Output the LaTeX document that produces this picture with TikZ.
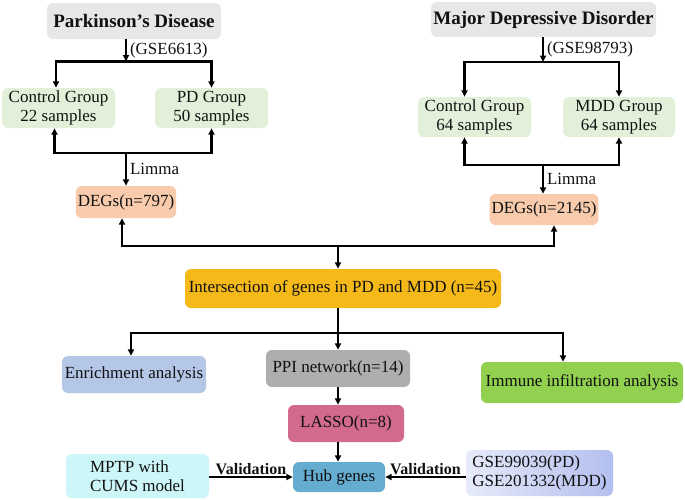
\documentclass[tikz,border=0pt]{standalone}
\usepackage{fontspec}
\setmainfont{Liberation Serif}
\usetikzlibrary{arrows.meta,calc}
\definecolor{titlegray}{HTML}{E8E7E7}
\definecolor{lgreen}{HTML}{E2F0D9}
\definecolor{salmon}{HTML}{F8CBAD}
\definecolor{gold}{HTML}{F5B919}
\definecolor{enrblue}{HTML}{B4C7E7}
\definecolor{ppigray}{HTML}{B0ADAD}
\definecolor{immgreen}{HTML}{92D050}
\definecolor{lassopink}{HTML}{D26A8C}
\definecolor{hubblue}{HTML}{64ACD0}
\definecolor{mptpcyan}{HTML}{CDF6F9}
\definecolor{gseL}{HTML}{E6EAF9}
\definecolor{gseR}{HTML}{B3BFEF}
\definecolor{txt}{HTML}{111111}
\begin{document}
\begin{tikzpicture}[x=1pt,y=-1pt,
  box/.style={rounded corners=6pt,inner sep=2pt,align=center,text=txt,
    font=\fontsize{17}{19}\selectfont},
  ln/.style={line width=2.1pt,draw=black},
  arr/.style={ln,-{Triangle[length=6.5pt,width=6pt]}},
  lbl/.style={font=\fontsize{17}{19}\selectfont,text=txt,inner sep=2pt},
  vlbl/.style={font=\bfseries\fontsize{16}{18}\selectfont,text=txt,inner sep=1.5pt}]
\useasboundingbox (0,0) rectangle (685,499);
% nodes
\node[box,fill=titlegray,minimum width=174,minimum height=36,font=\bfseries\fontsize{19}{21}\selectfont] (pd) at (134,21) {Parkinson’s Disease};
\node[box,fill=titlegray,minimum width=225,minimum height=35,font=\bfseries\fontsize{19}{21}\selectfont] (mdd) at (543.5,19.5) {Major Depressive Disorder};
\node[box,fill=lgreen,minimum width=113,minimum height=40] (ctl1) at (58.5,108) {Control Group\\22 samples};
\node[box,fill=lgreen,minimum width=113,minimum height=40] (pdg) at (211.5,108) {PD Group\\50 samples};
\node[box,fill=lgreen,minimum width=113,minimum height=40] (ctl2) at (474.5,117) {Control Group\\64 samples};
\node[box,fill=lgreen,minimum width=112,minimum height=40] (mddg) at (619,117) {MDD Group\\64 samples};
\node[box,fill=salmon,minimum width=98,minimum height=32] (deg1) at (126,202) {DEGs(n=797)};
\node[box,fill=salmon,minimum width=108,minimum height=31] (deg2) at (544,209.5) {DEGs(n=2145)};
\node[box,fill=gold,minimum width=316,minimum height=39] (inter) at (343,288.5) {Intersection of genes in PD and MDD (n=45)};
\node[box,fill=enrblue,minimum width=144,minimum height=37] (enr) at (134,374.5) {Enrichment analysis};
\node[box,fill=ppigray,minimum width=144,minimum height=37] (ppi) at (338,368.5) {PPI network(n=14)};
\node[box,fill=immgreen,minimum width=202,minimum height=41] (imm) at (582,382.5) {Immune infiltration analysis};
\node[box,fill=lassopink,minimum width=116,minimum height=37] (lasso) at (346,423.5) {LASSO(n=8)};
\node[box,fill=hubblue,minimum width=92,minimum height=30] (hub) at (339,477) {Hub genes};
\node[box,fill=mptpcyan,minimum width=143,minimum height=44,align=left] (mptp) at (137.5,476) {MPTP with\\CUMS model};
\node[box,left color=gseL,right color=gseR,minimum width=147,minimum height=46,align=left] (gse) at (539.5,473) {GSE99039(PD)\\GSE201332(MDD)};
% junctions
\coordinate (s1) at (126,61.5);
\coordinate (j1) at (126,153);
\coordinate (s2) at (543,62);
\coordinate (j2) at (543,165);
\coordinate (m) at (338,246);
\coordinate (b) at (338,333);
% PD branch
\draw[arr] (pd.south -| s1) -- (s1) node[lbl,midway,anchor=west,xshift=1pt] {(GSE6613)};
\draw[arr] (s1) -| ([xshift=-2.5pt]ctl1.north);
\draw[arr] (s1) -| (pdg.north);
\draw[arr] (j1) -| ([xshift=-4pt]ctl1.south);
\draw[arr] (j1) -| (pdg.south);
\draw[arr] (j1) -- (deg1.north) node[lbl,midway,anchor=west,xshift=1pt] {Limma};
% MDD branch
\draw[arr] (mdd.south -| s2) -- (s2) node[lbl,midway,anchor=west,xshift=1pt] {(GSE98793)};
\draw[arr] (s2) -| ([xshift=-10pt]ctl2.north);
\draw[arr] (s2) -| (mddg.north);
\draw[arr] (j2) -| ([xshift=-10pt]ctl2.south);
\draw[arr] (j2) -| (mddg.south);
\draw[arr] (j2) -- (deg2.north -| j2) node[lbl,midway,anchor=west,xshift=1pt] {Limma};
% merge
\draw[arr] (m) -| ([xshift=-4pt]deg1.south);
\draw[arr] (m) -| ([xshift=10pt]deg2.south);
\draw[arr] (m) -- (inter.north -| m);
% analyses
\draw[ln] (inter.south -| b) -- (b);
\draw[arr] (b) -| ([xshift=-3pt]enr.north);
\draw[arr] (b) -- (ppi.north);
\draw[arr] (b) -| ([xshift=-19pt]imm.north);
\draw[arr] (ppi.south) -- (ppi.south |- lasso.north);
\draw[arr] (ppi.south |- lasso.south) -- (ppi.south |- hub.north);
% validation
\draw[arr] (mptp.east |- hub.west) -- (hub.west) node[vlbl,midway,above] {Validation};
\draw[arr] (gse.west |- hub.east) -- (hub.east) node[vlbl,midway,above] {Validation};
\end{tikzpicture}
\end{document}
